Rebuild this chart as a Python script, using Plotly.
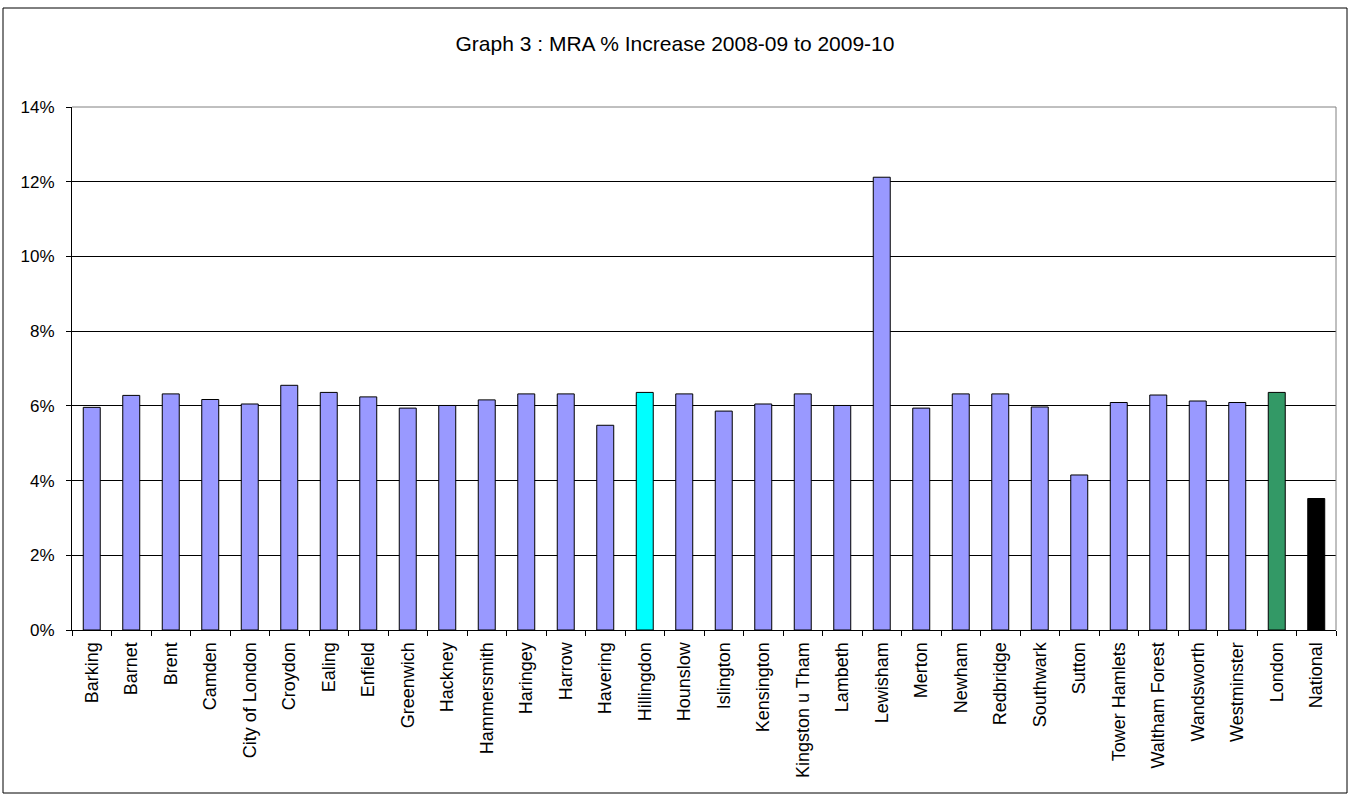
import plotly.graph_objects as go

categories = ["Barking", "Barnet", "Brent", "Camden", "City of London", "Croydon", "Ealing",
              "Enfield", "Greenwich", "Hackney", "Hammersmith", "Haringey", "Harrow", "Havering",
              "Hillingdon", "Hounslow", "Islington", "Kensington", "Kingston u Tham", "Lambeth",
              "Lewisham", "Merton", "Newham", "Redbridge", "Southwark", "Sutton", "Tower Hamlets",
              "Waltham Forest", "Wandsworth", "Westminster", "London", "National"]
values = [5.96, 6.28, 6.32, 6.17, 6.05, 6.55, 6.36, 6.24, 5.94, 6.01, 6.16, 6.32, 6.32, 5.48,
          6.36, 6.32, 5.86, 6.05, 6.32, 6.01, 12.12, 5.94, 6.32, 6.32, 5.97, 4.15, 6.09, 6.29,
          6.13, 6.09, 6.36, 3.52]
values = [v / 100 for v in values]
highlight = {"Hillingdon": "#00FFFF", "London": "#339966", "National": "#000000"}
base_color = "#9999FF"
colors = [highlight.get(c, base_color) for c in categories]
y_ticks = [0, 0.02, 0.04, 0.06, 0.08, 0.10, 0.12, 0.14]

W, H = 1350, 796
ml, mr, mt, mb = 72, 14, 107, 166
pw, ph = W - ml - mr, H - mt - mb

fig = go.Figure()
fig.add_trace(go.Bar(
    x=categories, y=values,
    marker=dict(color=colors, line=dict(color="#000000", width=1)),
    hoverinfo="x+y",
))

font = "Arial, Liberation Sans, sans-serif"
fig.update_layout(
    width=W, height=H,
    margin=dict(l=ml, r=mr, t=mt, b=mb, pad=0),
    paper_bgcolor="white", plot_bgcolor="white",
    bargap=0.57,
    showlegend=False,
    font=dict(family=font, size=17, color="#000000"),
    title=dict(text="Graph 3 : MRA % Increase 2008-09 to 2009-10",
               x=0.5, xref="container", xanchor="center",
               y=1 - 44 / H, yref="container", yanchor="middle",
               font=dict(family=font, size=21, color="#000000")),
    xaxis=dict(
        type="category", tickangle=-90, tickson="boundaries",
        ticks="outside", ticklen=5, tickcolor="#000000",
        showline=True, linecolor="#000000", linewidth=1,
        showgrid=False, tickfont=dict(size=18, family=font),
        ticklabelstandoff=4,
        range=[-0.5, len(categories) - 0.5],
    ),
    yaxis=dict(
        range=[0, 0.14], tickvals=y_ticks, tickformat=".0%",
        ticks="outside", ticklen=5, tickcolor="#000000",
        showline=True, linecolor="#000000", linewidth=1,
        showgrid=True, gridcolor="#000000", gridwidth=1,
        zeroline=False, tickfont=dict(size=17, family=font),
        ticklabelstandoff=8,
    ),
    shapes=[
        dict(type="line", xref="paper", yref="paper", x0=0, x1=1, y0=1, y1=1,
             line=dict(color="#808080", width=1)),
        dict(type="line", xref="paper", yref="paper", x0=1, x1=1, y0=0, y1=1,
             line=dict(color="#808080", width=1)),
        dict(type="rect", xref="paper", yref="paper",
             x0=(3 - ml) / pw, x1=(W - 3 - ml) / pw,
             y0=-(793 - mt - ph) / ph, y1=1 + (mt - 8) / ph,
             line=dict(color="#000000", width=1), fillcolor="rgba(0,0,0,0)", layer="below"),
    ],
)

fig.write_html("out.html")
